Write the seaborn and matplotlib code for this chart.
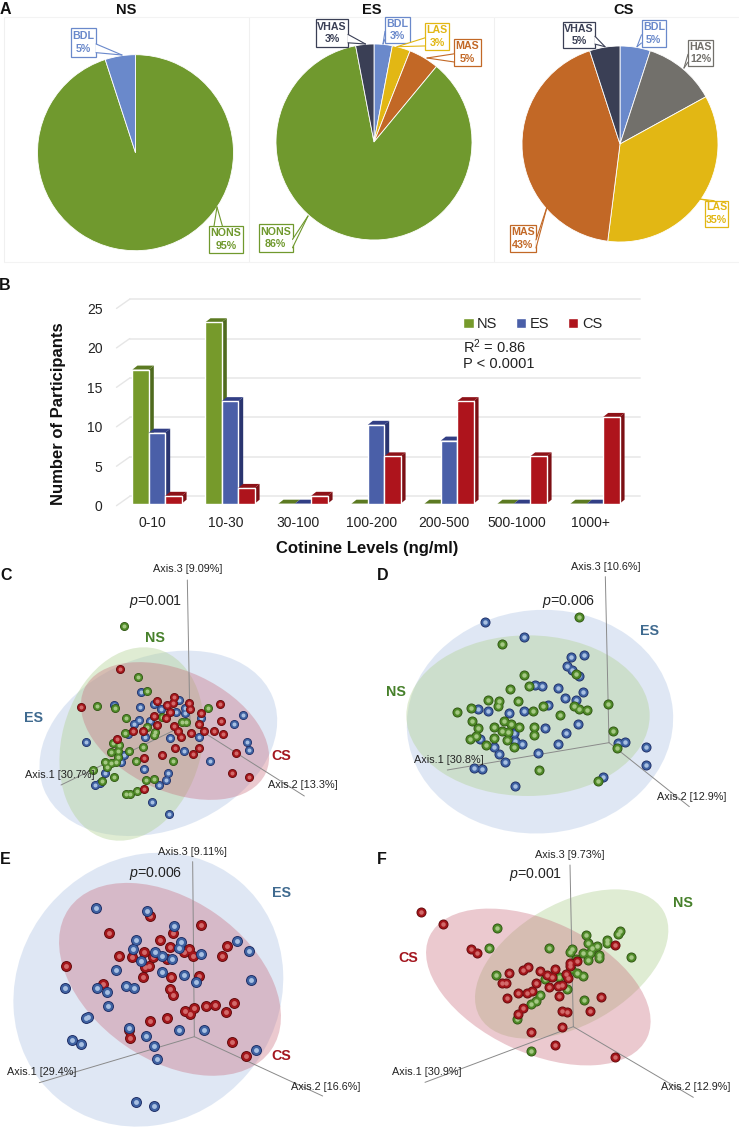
import pandas as pd
import seaborn as sns
import matplotlib
matplotlib.use("Agg")
import matplotlib.pyplot as plt
from matplotlib.patches import Ellipse, Polygon, Rectangle
from matplotlib.transforms import ScaledTranslation

# panel A: share of participants per nicotine exposure class
pie_ns_names = ["NONS", "BDL"]
pie_ns_values = [95, 5]
pie_es_names = ["BDL", "LAS", "MAS", "NONS", "VHAS"]
pie_es_values = [3, 3, 5, 86, 3]
pie_cs_names = ["BDL", "HAS", "LAS", "MAS", "VHAS"]
pie_cs_values = [5, 12, 35, 43, 5]

# panel B: participants per cotinine level
cotinine_levels = ["0-10", "10-30", "30-100", "100-200", "200-500", "500-1000", "1000+"]
ns_counts = [17, 23, 0, 0, 0, 0, 0]
es_counts = [9, 13, 0, 10, 8, 0, 0]
cs_counts = [1, 2, 1, 6, 13, 6, 11]
count_ticks = [0, 5, 10, 15, 20, 25]

# panels C-F: ordination scores
c_ns = [(371, 199), (414, 352), (441, 394), (292, 438), (346, 444), (378, 473), (440, 502), (375, 518),
        (465, 515), (463, 525), (340, 548), (358, 555), (355, 573), (332, 576), (388, 574), (355, 590),
        (430, 561), (316, 606), (333, 610), (347, 606), (320, 622), (278, 631), (305, 662), (343, 652),
        (409, 602), (520, 604), (437, 660), (463, 658), (378, 703), (390, 702), (411, 692), (545, 486),
        (559, 486), (624, 445), (485, 470)]
c_es = [(341, 435), (424, 396), (421, 441), (463, 433), (484, 448), (528, 421), (538, 419), (555, 444),
        (556, 460), (529, 456), (416, 481), (403, 493), (450, 482), (385, 522), (435, 531), (511, 535),
        (598, 532), (602, 473), (728, 466), (702, 491), (742, 546), (746, 569), (629, 603), (551, 573),
        (257, 547), (372, 586), (362, 607), (314, 638), (301, 670), (284, 674), (432, 627), (505, 638),
        (498, 659), (477, 674), (455, 726), (506, 762)]
c_cs = [(359, 327), (243, 442), (472, 424), (523, 411), (518, 430), (567, 430), (570, 447), (500, 435),
        (660, 431), (604, 460), (662, 482), (461, 468), (510, 456), (498, 475), (471, 495), (596, 493),
        (523, 497), (398, 513), (430, 514), (535, 514), (543, 531), (574, 518), (612, 514), (642, 514),
        (670, 521), (352, 537), (524, 565), (485, 585), (579, 582), (597, 563), (432, 594), (708, 579),
        (695, 639), (748, 652), (433, 688)]

d_es = [(346, 185), (462, 232), (603, 292), (641, 286), (591, 317), (607, 331), (628, 347), (495, 376),
        (515, 378), (564, 384), (638, 395), (585, 413), (617, 419), (535, 434), (325, 448), (355, 454),
        (417, 460), (462, 452), (623, 491), (525, 504), (589, 520), (432, 520), (330, 537), (434, 543),
        (455, 551), (563, 551), (373, 560), (386, 582), (503, 578), (405, 606), (311, 624), (335, 627),
        (745, 550), (766, 546), (828, 560), (827, 616), (698, 650), (435, 679)]
d_ns = [(628, 172), (396, 252), (463, 346), (617, 343), (421, 386), (477, 379), (355, 419), (388, 424),
        (385, 438), (445, 422), (304, 445), (261, 456), (520, 439), (490, 453), (613, 437), (628, 447),
        (652, 450), (714, 432), (569, 466), (306, 483), (325, 504), (403, 482), (423, 491), (447, 501),
        (373, 500), (493, 501), (493, 525), (396, 514), (413, 516), (372, 533), (299, 537), (318, 527),
        (347, 554), (411, 539), (433, 561), (729, 512), (742, 565), (683, 662), (507, 630)]

e_cs = [(451, 227), (326, 278), (603, 256), (518, 280), (481, 301), (510, 322), (680, 319), (665, 347),
        (358, 349), (396, 350), (432, 337), (459, 350), (502, 358), (551, 335), (567, 326), (578, 349),
        (197, 377), (435, 381), (446, 379), (428, 411), (512, 412), (597, 407), (310, 431), (510, 448),
        (519, 465), (702, 490), (645, 496), (618, 499), (581, 504), (555, 513), (571, 522), (679, 517),
        (502, 535), (449, 544), (386, 570), (389, 595), (696, 607), (739, 649)]
e_es = [(288, 205), (441, 213), (521, 257), (409, 301), (400, 327), (543, 306), (465, 335), (487, 349),
        (537, 325), (517, 357), (603, 341), (710, 304), (746, 332), (424, 364), (348, 389), (486, 395),
        (553, 405), (587, 426), (752, 419), (292, 445), (196, 444), (320, 456), (379, 437), (401, 445),
        (323, 498), (258, 534), (265, 532), (537, 570), (613, 570), (387, 563), (437, 587), (216, 599),
        (242, 612), (463, 617), (472, 657), (768, 629), (407, 786), (462, 799)]

f_cs = [(153, 217), (218, 253), (302, 326), (322, 339), (734, 314), (620, 362), (600, 368), (600, 378),
        (473, 380), (458, 391), (416, 398), (509, 393), (554, 387), (587, 403), (531, 405), (545, 410),
        (594, 414), (397, 429), (408, 430), (497, 429), (538, 440), (563, 437), (577, 435), (487, 452),
        (445, 460), (471, 460), (567, 467), (412, 474), (694, 470), (460, 504), (443, 521), (575, 514),
        (592, 515), (661, 512), (482, 575), (575, 562), (554, 616), (734, 650)]
f_ns = [(380, 265), (358, 325), (537, 325), (750, 273), (745, 282), (710, 301), (712, 308), (647, 285),
        (655, 309), (682, 318), (667, 323), (607, 327), (601, 336), (638, 340), (660, 340), (686, 344),
        (687, 355), (653, 361), (617, 358), (782, 350), (603, 388), (622, 399), (640, 407), (378, 404),
        (567, 411), (525, 418), (590, 447), (509, 466), (497, 484), (482, 491), (641, 481), (441, 538),
        (484, 634)]

sns.set_theme(style="white")
plt.rcParams["font.family"] = ["Liberation Sans", "DejaVu Sans"]
plt.rcParams["mathtext.fontset"] = "custom"
plt.rcParams["mathtext.rm"] = "Liberation Sans"
plt.rcParams["mathtext.it"] = "Liberation Sans:italic"
plt.rcParams["mathtext.default"] = "regular"

W, H = 739, 1131
PIE_COLORS = {"NONS": "#70992e", "BDL": "#6a89cb", "LAS": "#e2b714", "MAS": "#c26826",
              "VHAS": "#3a3f55", "HAS": "#72706b"}
SPHERES = {"NS": ("#2e5212", "#4f8a28", "#a5c884"),
           "ES": ("#1c2b63", "#3f62a2", "#a8c0e2"),
           "CS": ("#5f0a0c", "#a3161b", "#d26a6a")}
HULLS = {"NS": ("#b4d296", 0.42), "ES": ("#b4c8e6", 0.42), "CS": ("#c86a7a", 0.36)}
NAME_COLORS = {"NS": "#46802a", "ES": "#3f6a8f", "CS": "#a3161f"}
BAR_COLORS = {"NS": ("#769a2b", "#4f6b1e", "#5c7a22"),
              "ES": ("#4a5fa8", "#2a3570", "#323f85"),
              "CS": ("#ae141c", "#7c0f14", "#8e1218")}


def px_axes(fig, x0, y0, x1, y1):
    """axes placed by pixel box, origin top left"""
    return fig.add_axes([x0 / W, 1 - y1 / H, (x1 - x0) / W, (y1 - y0) / H])


def callout(ov, text, color, box, tip, side):
    x0, x1, y0, y1 = box
    ov.add_patch(Rectangle((x0, y0), x1 - x0, y1 - y0, fc="white", ec=color, lw=0.9, zorder=5))
    if side in "lr":
        bx = x0 if side == "l" else x1
        base = [(bx, y0 + (y1 - y0) * 0.55), (bx, y0 + (y1 - y0) * 0.85)]
    else:
        by = y0 if side == "t" else y1
        base = [(x0 + (x1 - x0) * 0.15, by), (x0 + (x1 - x0) * 0.4, by)]
    ov.add_patch(Polygon([base[0], tip, base[1]], fc="white", ec="none", zorder=6))
    for b in base:
        ov.plot([b[0], tip[0]], [b[1], tip[1]], color=color, lw=0.8, zorder=7)
    ov.text((x0 + x1) / 2, (y0 + y1) / 2, text, color=color, fontsize=7.7, fontweight="bold",
            ha="center", va="center", linespacing=1.35, zorder=8)


def draw_pie(fig, ov, title, title_x, cx, cy, names, values, layout):
    r = 98
    ax = px_axes(fig, cx - r, cy - r, cx + r, cy + r)
    ax.pie(values, colors=[PIE_COLORS[n] for n in names], startangle=90, counterclock=False,
           radius=1, wedgeprops={"edgecolor": "white", "linewidth": 0.6})
    ax.set_xlim(-1, 1)
    ax.set_ylim(-1, 1)
    ov.text(title_x, 10, title, fontsize=10.5, fontweight="bold", ha="center", va="center", color="#111111")
    for name, value in zip(names, values):
        box, tip, side = layout[name]
        callout(ov, f"{name}\n{value}%", PIE_COLORS[name], box, tip, side)


def draw_bars(fig, ov):
    df = pd.DataFrame({"level": cotinine_levels * 3,
                       "count": ns_counts + es_counts + cs_counts,
                       "group": ["NS"] * 7 + ["ES"] * 7 + ["CS"] * 7})
    ax = px_axes(fig, 120.5, 290.7, 631.5, 503.7)
    ax.patch.set_alpha(0)
    sns.barplot(data=df, x="level", y="count", hue="group", ax=ax, width=0.673, gap=0, saturation=1,
                palette={k: v[0] for k, v in BAR_COLORS.items()})
    ax.set_ylim(0, 27)
    ax.set_xlim(-0.5, 6.5)
    # back wall grid, shifted up and right like the 3D box
    for v in count_ticks:
        ax.plot([-0.374, 6.62], [v + 0.93, v + 0.93], color="#eaeaea", lw=1.3, zorder=1, clip_on=False)
        ax.plot([-0.555, -0.374], [v - 0.25, v + 0.93], color="#e6e6e6", lw=1, zorder=1, clip_on=False)
    dx, dy = 5 / 73, 4 / 7.89
    groups = list(BAR_COLORS)
    bars = []
    for group, container in zip(groups, ax.containers):
        bars += [(bar, group) for bar in container]
    bars.sort(key=lambda item: item[0].get_x())
    for i, (bar, group) in enumerate(bars):
        x0, x1, h = bar.get_x(), bar.get_x() + bar.get_width(), bar.get_height()
        z = 3 + i * 0.02
        _, side, top = BAR_COLORS[group]
        if h > 0:
            ax.add_patch(Polygon([(x1, 0), (x1 + dx, dy), (x1 + dx, h + dy), (x1, h)], fc=side, ec="none",
                                 zorder=z, clip_on=False))
        ax.add_patch(Polygon([(x0, h), (x1, h), (x1 + dx, h + dy), (x0 + dx, h + dy)], fc=top, ec="none",
                             zorder=z, clip_on=False))
        bar.set_zorder(z + 0.01)
    sns.despine(ax=ax, left=True, bottom=True)
    ax.set_yticks(count_ticks)
    ax.tick_params(axis="y", length=0, pad=13, labelsize=10, labelcolor="#222222")
    ax.tick_params(axis="x", length=0, pad=9, labelsize=10, labelcolor="#222222")
    for lab in ax.get_xticklabels():
        lab.set_transform(lab.get_transform() + ScaledTranslation(-4.7 / 100, 0, fig.dpi_scale_trans))
    for lab in ax.get_yticklabels():
        lab.set_transform(lab.get_transform() + ScaledTranslation(0, -2 / 100, fig.dpi_scale_trans))
    ax.set_xlabel("Cotinine Levels (ng/ml)", fontsize=12, fontweight="bold", color="#111111")
    ax.xaxis.set_label_coords(367, 548, transform=ov.transData)
    ax.xaxis.label.set_va("center")
    ax.set_ylabel("Number of Participants", fontsize=12, fontweight="bold", color="#111111")
    ax.yaxis.set_label_coords(59, 414, transform=ov.transData)
    ax.yaxis.label.set_va("center")
    handles, labels = ax.get_legend_handles_labels()
    ax.legend(handles, labels, ncol=3, frameon=False, loc="center left", title=None,
              bbox_to_anchor=(463, 324), bbox_transform=ov.transData, borderpad=0, borderaxespad=0,
              handlelength=0.72, handleheight=0.72, handletextpad=0.25, columnspacing=1.25,
              fontsize=10.5, labelcolor="#222222")
    ov.text(463, 347, "R$^2$ = 0.86", fontsize=10.5, va="center", color="#222222")
    ov.text(463, 364, "P < 0.0001", fontsize=10.5, va="center", color="#222222")


def draw_ordination(fig, box, groups, hulls, size, axes_lines, axes_text, p_text, names):
    """box is a crop of the page, scores are in thirds of a pixel"""
    ax = px_axes(fig, *box)
    ax.set_xlim(0, (box[2] - box[0]) * 3)
    ax.set_ylim((box[3] - box[1]) * 3, 0)
    ax.axis("off")
    ax.patch.set_alpha(0)
    for key, cx, cy, width, height, angle in hulls:
        color, alpha = HULLS[key]
        ax.add_patch(Ellipse((cx, cy), width, height, angle=angle, fc=color, ec="none", alpha=alpha, zorder=1))
    for (xa, ya), (xb, yb) in axes_lines:
        ax.plot([xa, xb], [ya, yb], color="#8a8a8a", lw=0.7, zorder=2)
    for i, (key, scores) in enumerate(groups):
        df = pd.DataFrame(scores, columns=["axis_x", "axis_y"])
        edge, body, shine = SPHERES[key]
        for j, (color, scale) in enumerate([(edge, 1.0), (body, 0.7), (shine, 0.2)]):
            sns.scatterplot(data=df, x="axis_x", y="axis_y", color=color, s=size * scale, linewidth=0,
                            ax=ax, zorder=3 + i + j * 0.1, legend=False)
    ax.set_xlabel("")
    ax.set_ylabel("")
    ax.set_xlim(0, (box[2] - box[0]) * 3)
    ax.set_ylim((box[3] - box[1]) * 3, 0)
    for (x, y, ha), label in axes_text:
        ax.text(x, y, label, fontsize=7.8, color="#222222", ha=ha, va="center", zorder=10)
    ax.text(p_text[0], p_text[1], p_text[2], fontsize=10.2, color="#222222", va="center", zorder=10)
    for key, x, y in names:
        ax.text(x, y, key, fontsize=10.3, fontweight="bold", color=NAME_COLORS[key], ha="center", va="center",
                zorder=10)


def main():
    fig = plt.figure(figsize=(W / 100, H / 100), dpi=100)
    fig.patch.set_facecolor("white")
    ov = fig.add_axes([0, 0, 1, 1], zorder=0)
    ov.set_xlim(0, W)
    ov.set_ylim(H, 0)
    ov.axis("off")

    # faint frames around the three pies
    for x in [4, 249, 494]:
        ov.plot([x, x], [17, 262], color="#f0f0f0", lw=0.8)
    ov.plot([4, 739], [17, 17], color="#f3f3f3", lw=0.8)
    ov.plot([4, 739], [262, 262], color="#f3f3f3", lw=0.8)

    for letter, x, y in [("A", 5, 9), ("B", 5, 286), ("C", 6, 576), ("D", 383, 576), ("E", 5, 860), ("F", 382, 860)]:
        ov.text(x, y, letter, fontsize=11.5, fontweight="bold", ha="center", va="center", color="#111111")

    draw_pie(fig, ov, "NS", 126, 135.5, 152.7, pie_ns_names, pie_ns_values, {
        "BDL": ((71, 96, 28, 57), (122, 55), "r"),
        "NONS": ((209, 242.5, 226, 253), (217, 207), "t")})
    draw_pie(fig, ov, "ES", 372, 374, 142, pie_es_names, pie_es_values, {
        "VHAS": ((316, 348, 19, 47), (365.5, 44), "r"),
        "BDL": ((385, 409.5, 17, 43), (383, 44), "l"),
        "LAS": ((425, 449, 23, 50), (397, 46.7), "l"),
        "MAS": ((454, 481, 39, 66), (427, 58), "l"),
        "NONS": ((258.5, 292.5, 224, 252), (308, 216), "r")})
    draw_pie(fig, ov, "CS", 624, 620, 144, pie_cs_names, pie_cs_values, {
        "VHAS": ((563, 595, 22, 48), (605, 46.7), "r"),
        "BDL": ((641.5, 666, 20, 47), (637, 46.7), "l"),
        "HAS": ((688, 713, 40, 66), (684, 68), "l"),
        "LAS": ((705, 728, 200.7, 227), (699.5, 199), "t"),
        "MAS": ((510, 536, 225, 252), (547, 207), "r")})

    draw_bars(fig, ov)

    draw_ordination(fig, (0, 560, 370, 845),
                    [("ES", c_es), ("NS", c_ns), ("CS", c_cs)],
                    [("ES", 475, 550, 740, 520, -22), ("NS", 395, 552, 590, 420, -75), ("CS", 525, 513, 600, 360, 25)],
                    42,
                    [((562, 60), (570, 500)), ((183, 675), (520, 512)), ((600, 510), (913, 708))],
                    [((562, 28, "center"), "Axis.3 [9.09%]"), ((75, 645, "left"), "Axis.1 [30.7%]"),
                     ((805, 675, "left"), "Axis.2 [13.3%]")],
                    (388, 123, "$\\it{p}$=0.001"),
                    [("NS", 465, 234), ("ES", 101, 475), ("CS", 845, 587)])
    draw_ordination(fig, (370, 560, 739, 845),
                    [("ES", d_es), ("NS", d_ns)],
                    [("ES", 510, 485, 800, 670, -5), ("NS", 474, 467, 730, 482, 0)],
                    52,
                    [((706, 50), (717, 548)), ((232, 630), (717, 548)), ((717, 548), (958, 740))],
                    [((707, 22, "center"), "Axis.3 [10.6%]"), ((133, 600, "left"), "Axis.1 [30.8%]"),
                     ((860, 712, "left"), "Axis.2 [12.9%]")],
                    (517, 123, "$\\it{p}$=0.006"),
                    [("ES", 839, 214), ("NS", 77, 395)])
    draw_ordination(fig, (0, 840, 370, 1131),
                    [("CS", e_cs), ("ES", e_es)],
                    [("ES", 445, 449, 850, 780, -50), ("CS", 510, 418, 740, 480, 35)],
                    62,
                    [((578, 65), (583, 590)), ((118, 728), (583, 590)), ((583, 590), (968, 768))],
                    [((578, 35, "center"), "Axis.3 [9.11%]"), ((22, 697, "left"), "Axis.1 [29.4%]"),
                     ((873, 740, "left"), "Axis.2 [16.6%]")],
                    (388, 101, "$\\it{p}$=0.006"),
                    [("ES", 845, 160), ("CS", 845, 647)])
    draw_ordination(fig, (370, 840, 739, 1131),
                    [("NS", f_ns), ("CS", f_cs)],
                    [("NS", 605, 372, 636, 364, -30), ("CS", 505, 441, 720, 396, 25)],
                    52,
                    [((600, 75), (610, 560)), ((165, 727), (610, 560)), ((610, 560), (970, 772))],
                    [((598, 46, "center"), "Axis.3 [9.73%]"), ((65, 696, "left"), "Axis.1 [30.9%]"),
                     ((872, 742, "left"), "Axis.2 [12.9%]")],
                    (416, 103, "$\\it{p}$=0.001"),
                    [("NS", 940, 190), ("CS", 115, 355)])

    # callouts have to sit over the pies
    ov.set_zorder(5)
    ov.patch.set_alpha(0)
    fig.savefig("out.png", dpi=100)


if __name__ == "__main__":
    main()
